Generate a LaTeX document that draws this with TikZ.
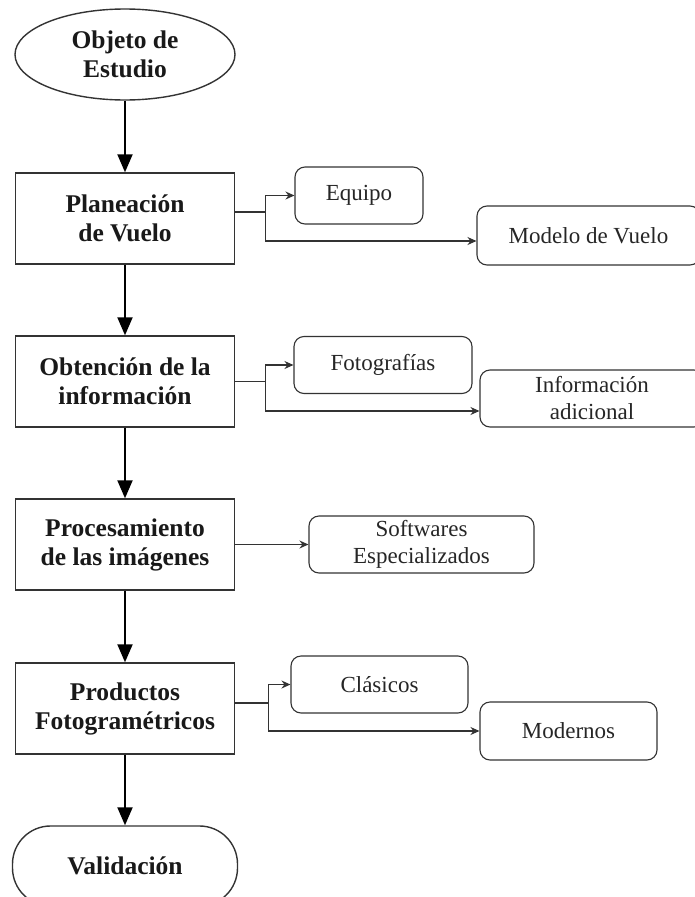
\documentclass[tikz,border=0pt]{standalone}
\usepackage{fontspec}
\setmainfont{Liberation Serif}
\usetikzlibrary{shapes.geometric,arrows.meta}

\begin{document}
\begin{tikzpicture}[x=1pt,y=1pt,yscale=-1,
  paso/.style={draw=black!80,line width=1.4pt,fill=white,minimum width=219pt,minimum height=91pt,inner sep=0pt,align=center,text=black!90,font=\bfseries\fontsize{25.5}{29}\selectfont},
  inicio/.style={paso,ellipse,minimum width=220pt},
  fin/.style={paso,rounded corners=38pt,minimum width=225pt,minimum height=80pt},
  detalle/.style={draw=black!80,line width=1.1pt,rounded corners=10pt,fill=white,minimum height=57pt,inner sep=0pt,align=center,text=black!85,font=\fontsize{23}{27}\selectfont},
  flecha/.style={draw=black,line width=2pt,-{Triangle[length=18pt,width=15pt]}},
  rama/.style={draw=black!80,line width=1.2pt,-{Stealth[length=9pt,width=8pt]}}]
\useasboundingbox (0,0) rectangle (694,897);

%Shape: Ellipse
\node [inicio] (objeto) at (125,54.5) {Objeto de\\Estudio};
%Shape: Rectangle
\node [paso] (planeacion) at (125,218.5) {Planeación\\de Vuelo};
\node [paso] (obtencion) at (125,381.5) {Obtención de la\\información};
\node [paso] (procesamiento) at (125,544.5) {Procesamiento\\de las imágenes};
\node [paso] (productos) at (125,708.5) {Productos\\Fotogramétricos};
%Shape: Rounded Rect
\node [fin] (validacion) at (125,866) {Validación};

% Text Node
\node [detalle,minimum width=128pt] (equipo) at (359,195.5) {Equipo};
\node [detalle,minimum width=223pt,minimum height=59pt] (modelo) at (588.5,235.5) {Modelo de Vuelo};
\node [detalle,minimum width=178pt] (fotografias) at (383,365) {Fotografías};
\node [detalle,minimum width=224pt] (adicional) at (592,398.5) {Información\\adicional};
\node [detalle,minimum width=225pt] (softwares) at (421.5,544.5) {Softwares\\Especializados};
\node [detalle,minimum width=177pt] (clasicos) at (379.5,684.5) {Clásicos};
\node [detalle,minimum width=177pt,minimum height=58pt] (modernos) at (568.5,731) {Modernos};

%Straight Lines
\draw [flecha] (objeto) -- (planeacion);
\draw [flecha] (planeacion) -- (obtencion);
\draw [flecha] (obtencion) -- (procesamiento);
\draw [flecha] (procesamiento) -- (productos);
\draw [flecha] (productos) -- (validacion);

%Straight Lines
\draw [rama] ([yshift=-6.5pt]planeacion.east) -- ++(30,0) coordinate (r1) |- (equipo.west);
\draw [rama] (r1) |- ([yshift=5.5pt]modelo.west);
\draw [rama] (obtencion.east) -- ++(30,0) coordinate (r2) |- (fotografias.west);
\draw [rama] (r2) |- ([yshift=12.5pt]adicional.west);
\draw [rama] (procesamiento.east) -- (softwares.west);
\draw [rama] ([yshift=-5.5pt]productos.east) -- ++(33,0) coordinate (r4) |- (clasicos.west);
\draw [rama] (r4) |- (modernos.west);

\end{tikzpicture}
\end{document}
